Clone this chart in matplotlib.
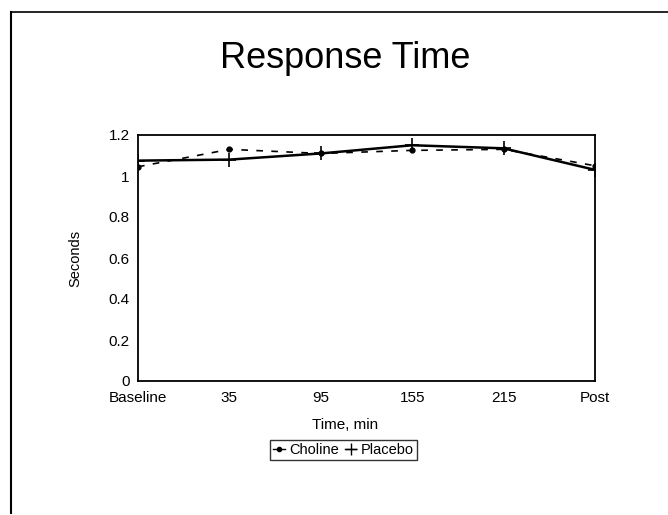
import matplotlib
matplotlib.use('Agg')
import matplotlib.pyplot as plt
from matplotlib.lines import Line2D

plt.rcParams['font.family'] = ['Liberation Sans', 'DejaVu Sans']

# data
times = ['Baseline', '35', '95', '155', '215', 'Post']
choline = [1.045, 1.13, 1.11, 1.125, 1.13, 1.05]
placebo = [1.075, 1.08, 1.11, 1.15, 1.135, 1.03]

W, H = 668, 515
fig = plt.figure(figsize=(W/100, H/100), dpi=100)
ax = fig.add_axes([138/W, 1-381/H, (595-138)/W, (381-135)/H])

x = list(range(len(times)))
ax.plot(x, choline, color='black', linestyle=(0, (4, 5)), linewidth=1.2,
        marker='o', markersize=3.5, label='Choline')
ax.plot(x, placebo, color='black', linestyle='-', linewidth=1.8,
        marker='+', markersize=10, markeredgewidth=1.2, label='Placebo')

ax.set_xlim(0, len(times)-1)
ax.set_ylim(0, 1.2)
ax.set_yticks([0, 0.2, 0.4, 0.6, 0.8, 1.0, 1.2])
ax.set_yticklabels(['0', '0.2', '0.4', '0.6', '0.8', '1', '1.2'])
ax.set_xticks(x)
ax.set_xticklabels(times)
ax.tick_params(length=0, labelsize=11)
ax.tick_params(axis='x', pad=7)
ax.tick_params(axis='y', pad=6)
for s in ax.spines.values():
    s.set_linewidth(1.3)

fig.text(345/W, 1-425/H, 'Time, min', ha='center', va='center', fontsize=11)
fig.text(75/W, 1-258/H, 'Seconds', ha='center', va='center', rotation=90, fontsize=10.5)
fig.text(345/W, 1-68/H, 'Response Time', ha='center', va='baseline', fontsize=26)

handles = [Line2D([], [], color='black', linewidth=1, marker='o', markersize=3),
           Line2D([], [], color='black', linewidth=1, marker='+', markersize=9)]
leg = fig.legend(handles, ['Choline', 'Placebo'], loc='center',
                 bbox_to_anchor=(343.5/W, 1-450/H), ncol=2, fontsize=10.5,
                 frameon=True, fancybox=False, handlelength=0.8,
                 handletextpad=0.3, columnspacing=0.4, borderpad=0.2,
                 borderaxespad=0)
leg.get_frame().set_edgecolor('black')
leg.get_frame().set_linewidth(1.0)

# page border (left and top)
fig.add_artist(Line2D([11/W, 11/W], [1-513/H, 1-12/H], color='black', linewidth=1.5))
fig.add_artist(Line2D([11/W, 1], [1-12/H, 1-12/H], color='black', linewidth=1.2))

fig.savefig('out.png', dpi=100)
